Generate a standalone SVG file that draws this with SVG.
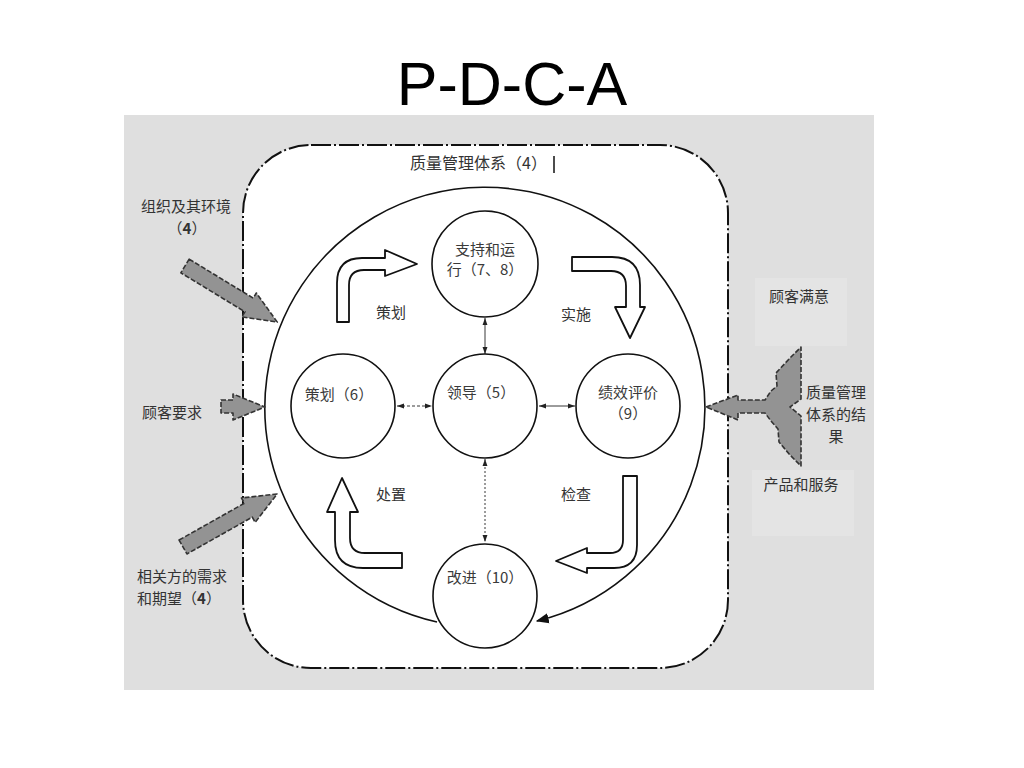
<svg xmlns="http://www.w3.org/2000/svg" width="1024" height="768" viewBox="0 0 1024 768">
  <style>
    .title{font-family:"Liberation Sans",Arial,sans-serif;font-size:61px;fill:#000}
    .lbl{font-family:"Noto Sans CJK SC","Noto Sans",sans-serif;font-size:15px;fill:#333}
    .clbl{font-family:"Noto Sans CJK SC","Noto Sans",sans-serif;font-size:15px;fill:#3a3a3a}
    .circ{fill:#fff;stroke:#111;stroke-width:1.6}
    .hollow{fill:#fff;stroke:#111;stroke-width:1.8;stroke-linejoin:round}
    .gray{fill:#939393;stroke:#333;stroke-width:1.6;stroke-dasharray:5 2;stroke-linejoin:round}
    .thin{fill:none;stroke:#222;stroke-width:0.9}
  </style>
  <defs>
    <marker id="sm" viewBox="0 0 10 10" refX="10" refY="5" markerWidth="7" markerHeight="7" orient="auto-start-reverse" markerUnits="userSpaceOnUse">
      <path d="M0,1.5 L10,5 L0,8.5 Z" fill="#222"/>
    </marker>
    <marker id="big" viewBox="0 0 10 10" refX="9" refY="5" markerWidth="13" markerHeight="13" orient="auto" markerUnits="userSpaceOnUse">
      <path d="M0,1 L10,5 L0,9 Z" fill="#111"/>
    </marker>
  </defs>
  <rect width="1024" height="768" fill="#fff"/>
  <text class="title" x="512" y="105" text-anchor="middle">P-D-C-A</text>

  <g id="background">
    <rect x="124" y="115" width="750" height="575" fill="#dfdfdf"/>
    <rect x="755" y="278" width="92" height="68" fill="#e4e4e4"/>
    <rect x="752" y="470" width="102" height="66" fill="#e4e4e4"/>
  </g>

  <g id="qms-boundary">
    <rect x="243" y="145" width="485" height="523" rx="68" ry="68" fill="#fff" stroke="#111" stroke-width="2" stroke-dasharray="20 3 2 3"/>
    <text class="lbl" x="410" y="169" style="font-size:16px">质量管理体系（4）</text>
    <line x1="554" y1="156" x2="554" y2="173" stroke="#111" stroke-width="1.5"/>
  </g>

  <g id="connectors">
    <path id="cycle" d="M437,622 A220,220 0 1 1 537,621" fill="none" stroke="#111" stroke-width="1.6" marker-end="url(#big)"/>
    <line class="thin" x1="485" y1="318" x2="485" y2="354" marker-start="url(#sm)" marker-end="url(#sm)"/>
    <line class="thin" x1="397" y1="406" x2="432" y2="406" stroke-dasharray="3 2" marker-start="url(#sm)" marker-end="url(#sm)"/>
    <line class="thin" x1="539" y1="406" x2="575" y2="406" marker-start="url(#sm)" marker-end="url(#sm)"/>
    <line class="thin" x1="485" y1="459" x2="485" y2="542" stroke-dasharray="2 2" marker-start="url(#sm)" marker-end="url(#sm)"/>
  </g>

  <g id="pdca-arrows">
    <path class="hollow" d="M337,322 L337,283 Q337,258 362,258 L385,258 L385,250 L417,264 L385,276 L385,270 L364,270 Q349,270 349,285 L349,322 Z"/>
    <path class="hollow" d="M572,257 L612,257 Q640,257 640,285 L640,307 L645,307 L630,338 L615,307 L626,307 L626,286 Q626,271 611,271 L572,271 Z"/>
    <path class="hollow" d="M623,476 L637,476 L637,545 Q637,568 614,568 L587,568 L587,573 L556,561 L587,548 L587,553 L610,553 Q623,553 623,540 Z"/>
    <path class="hollow" d="M335,512 L335,540 Q335,568 363,568 L402,568 L402,553 L365,553 Q350,553 350,538 L350,512 L358,512 L342,478 L327,512 Z"/>
    <text class="lbl" x="391" y="318" text-anchor="middle">策划</text>
    <text class="lbl" x="576" y="320" text-anchor="middle">实施</text>
    <text class="lbl" x="391" y="500" text-anchor="middle">处置</text>
    <text class="lbl" x="576" y="500" text-anchor="middle">检查</text>
  </g>

  <g id="node-support">
    <circle class="circ" cx="485" cy="264" r="53"/>
    <text class="clbl" x="485" y="255" text-anchor="middle">支持和运</text>
    <text class="clbl" x="485" y="275" text-anchor="middle">行（7、8）</text>
  </g>
  <g id="node-planning">
    <circle class="circ" cx="343" cy="406" r="52"/>
    <text class="clbl" x="339" y="400" text-anchor="middle">策划（6）</text>
  </g>
  <g id="node-leadership">
    <circle class="circ" cx="485" cy="406" r="52"/>
    <text class="clbl" x="481" y="398" text-anchor="middle">领导（5）</text>
  </g>
  <g id="node-evaluation">
    <circle class="circ" cx="628" cy="406" r="52"/>
    <text class="clbl" x="628" y="398" text-anchor="middle">绩效评价</text>
    <text class="clbl" x="628" y="419" text-anchor="middle">（9）</text>
  </g>
  <g id="node-improvement">
    <circle class="circ" cx="485" cy="596" r="52"/>
    <text class="clbl" x="485" y="583" text-anchor="middle">改进（10）</text>
  </g>

  <g id="input-org">
    <polygon class="gray" points="0,-8 75,-8 75,-14 108,0 75,14 75,8 0,8" transform="translate(185,266) rotate(31.3)"/>
    <text class="lbl" x="186" y="212" text-anchor="middle">组织及其环境</text>
    <text class="lbl" x="187" y="234" text-anchor="middle">（<tspan font-weight="bold">4</tspan>）</text>
  </g>
  <g id="input-customer">
    <polygon class="gray" points="221,400 233,400 233,394 265,407 233,420 233,413 221,413"/>
    <text class="lbl" x="142" y="418">顾客要求</text>
  </g>
  <g id="input-parties">
    <polygon class="gray" points="0,-8 75,-8 75,-14 108,0 75,14 75,8 0,8" transform="translate(183,547) rotate(-29.4)"/>
    <text class="lbl" x="137" y="582">相关方的需求</text>
    <text class="lbl" x="137" y="604">和期望（<tspan font-weight="bold">4</tspan>）</text>
  </g>

  <g id="outputs">
    <path class="gray" d="M706,407 L738,395 L738,400 L765,400 L771,391 L777,386 L776,373 L790,358 L801,347 L801,399 L790,407 L801,416 L801,466 L790,455 L779,442 L778,429 L771,421 L765,413 L738,413 L738,420 Z"/>
    <text class="lbl" x="799" y="302" text-anchor="middle">顾客满意</text>
    <text class="lbl" x="836" y="398" text-anchor="middle">质量管理</text>
    <text class="lbl" x="836" y="420" text-anchor="middle">体系的结</text>
    <text class="lbl" x="836" y="442" text-anchor="middle">果</text>
    <text class="lbl" x="801" y="490" text-anchor="middle">产品和服务</text>
  </g>
</svg>
